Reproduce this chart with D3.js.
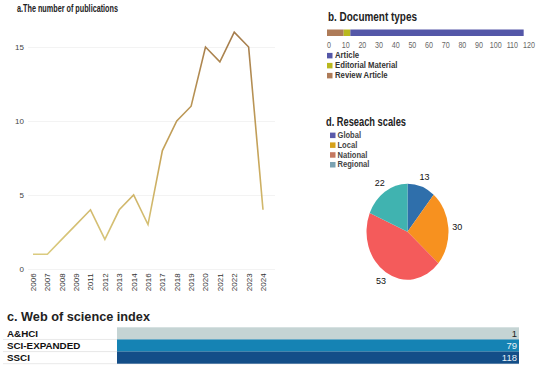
<!DOCTYPE html>
<html>
<head>
<meta charset="utf-8">
<script src="https://cdn.jsdelivr.net/npm/d3@7"></script>
<style>
  body { margin: 0; background: #fff; }
  svg { display: block; font-family: "Liberation Sans", Arial, sans-serif; }
</style>
</head>
<body>
<svg id="chart" width="550" height="369"></svg>
<script>
// a. publications per year
const years = ['2006', '2007', '2008', '2009', '2011', '2012', '2013', '2014', '2016',
  '2017', '2018', '2019', '2020', '2021', '2022', '2023', '2024'];
const pubs = [1, 1, 2, 3, 4, 2, 4, 5, 3, 8, 10, 11, 15, 14, 16, 15, 4];
const pubTicks = [0, 5, 10, 15];

// b. document types
const docTypes = ['Review Article', 'Editorial Material', 'Article'];
const docCounts = [10, 4, 104];
const docLegend = ['Article', 'Editorial Material', 'Review Article'];
const docTicks = [0, 10, 20, 30, 40, 50, 60, 70, 80, 90, 100, 110, 120];

// c. web of science index
const wosIndex = ['A&HCI', 'SCI-EXPANDED', 'SSCI'];
const wosCounts = [1, 79, 118];

// d. research scales
const scales = ['Global', 'Local', 'National', 'Regional'];
const scaleCounts = [13, 30, 53, 22];

const svg = d3.select('#chart');

// titles are squeezed sideways in the original, so fit them to its widths
function title(txt, xPos, yPos, size, len) {
  svg.append('text')
    .attr('x', xPos).attr('y', yPos)
    .attr('textLength', len).attr('lengthAdjust', 'spacingAndGlyphs')
    .style('font-size', size + 'px').style('font-weight', 'bold').attr('fill', '#222')
    .text(txt);
}
// narrow the glyphs of already drawn text by a factor k
function squeeze(sel, k) {
  sel.each(function () {
    const w = this.getComputedTextLength();
    d3.select(this).attr('textLength', w * k).attr('lengthAdjust', 'spacingAndGlyphs');
  });
}

// ---------- a. line chart ----------
const x = d3.scalePoint().domain(years).range([33, 263]);
const y = d3.scaleLinear().domain([0, 15]).range([269, 47]);

title('a.The number of publications', 17, 12, 10.5, 101);

const grad = svg.append('defs').append('linearGradient')
  .attr('id', 'lineGrad').attr('gradientUnits', 'userSpaceOnUse')
  .attr('x1', 0).attr('x2', 0).attr('y1', y(0)).attr('y2', y(16));
grad.append('stop').attr('offset', '0%').attr('stop-color', '#ddd084');
grad.append('stop').attr('offset', '45%').attr('stop-color', '#c9a85c');
grad.append('stop').attr('offset', '100%').attr('stop-color', '#a57c4c');

const yAxis = svg.append('g')
  .attr('transform', 'translate(28,0)')
  .call(d3.axisLeft(y).tickValues(pubTicks).tickSize(-247).tickPadding(4));
yAxis.select('.domain').remove();
yAxis.selectAll('.tick line').attr('stroke', '#f3f3f3');
yAxis.selectAll('text').attr('fill', '#444').style('font-size', '8px');

const xAxis = svg.append('g')
  .attr('transform', 'translate(0,271)')
  .call(d3.axisBottom(x).tickSize(0).tickPadding(2));
xAxis.select('.domain').remove();
xAxis.selectAll('text')
  .attr('fill', '#333').style('font-size', '8px')
  .attr('transform', 'rotate(-90)')
  .attr('text-anchor', 'end')
  .attr('dx', '-0.3em').attr('dy', '0.3em')
  .attr('x', 0).attr('y', 0);

svg.append('path')
  .datum(pubs)
  .attr('fill', 'none')
  .attr('stroke', 'url(#lineGrad)')
  .attr('stroke-width', 1.6)
  .attr('d', d3.line().x((d, i) => x(years[i])).y(d => y(d)));

// ---------- b. document types ----------
const docColor = d3.scaleOrdinal()
  .domain(['Article', 'Editorial Material', 'Review Article'])
  .range(['#5457a8', '#b9b81e', '#ae7b58']);
const xb = d3.scaleLinear().domain([0, 120]).range([327, 527]);

title('b. Document types', 328, 21, 12, 89);

let acc = 0;
const stacked = docCounts.map((v, i) => {
  const s = { key: docTypes[i], x0: acc, x1: acc + v };
  acc += v;
  return s;
});
svg.selectAll('.docbar')
  .data(stacked)
  .enter().append('rect')
  .attr('x', d => xb(d.x0))
  .attr('width', d => xb(d.x1) - xb(d.x0))
  .attr('y', 29.5).attr('height', 6.5)
  .attr('fill', d => docColor(d.key));

const bAxis = svg.append('g')
  .attr('transform', 'translate(1.5,38)')
  .call(d3.axisBottom(xb).tickValues(docTicks).tickSize(0).tickPadding(3));
bAxis.attr('font-family', null);
bAxis.select('.domain').remove();
bAxis.selectAll('text').attr('fill', '#666').style('font-size', '9.5px');
squeeze(bAxis.selectAll('text'), 0.75);

const bLeg = svg.selectAll('.docleg')
  .data(docLegend)
  .enter().append('g')
  .attr('transform', (d, i) => 'translate(327,' + (52.9 + i * 10) + ')');
bLeg.append('rect').attr('width', 5.5).attr('height', 5.5).attr('fill', d => docColor(d));
bLeg.append('text').attr('x', 8).attr('y', 5.4)
  .style('font-size', '9px').style('font-weight', 'bold').attr('fill', '#333')
  .text(d => d);
squeeze(bLeg.selectAll('text'), 0.86);

// ---------- d. research scales ----------
const pieColor = d3.scaleOrdinal().domain(scales)
  .range(['#2f6fab', '#f7911f', '#f45b5b', '#40b3b0']);
const legColor = d3.scaleOrdinal().domain(scales)
  .range(['#5a5aaa', '#d6a11a', '#c47860', '#7aa2b2']);

title('d. Reseach scales', 326, 126, 12, 80);

const dLeg = svg.selectAll('.scaleleg')
  .data(scales)
  .enter().append('g')
  .attr('transform', (d, i) => 'translate(330,' + (132.6 + i * 9.8) + ')');
dLeg.append('rect').attr('width', 5.5).attr('height', 5.5).attr('fill', d => legColor(d));
dLeg.append('text').attr('x', 7.5).attr('y', 5.4)
  .style('font-size', '9px').style('font-weight', 'bold').attr('fill', '#444')
  .text(d => d);
squeeze(dLeg.selectAll('text'), 0.84);

const pieData = d3.pie().sort(null)(scaleCounts);
const r = 41;
const pieG = svg.append('g')
  .attr('transform', 'translate(407.5,231.7) scale(1,1.17)');
pieG.selectAll('path')
  .data(pieData)
  .enter().append('path')
  .attr('d', d3.arc().innerRadius(0).outerRadius(r))
  .attr('fill', (d, i) => pieColor(scales[i]));

const labelArc = d3.arc().innerRadius(r + 9).outerRadius(r + 9);
svg.append('g')
  .attr('transform', 'translate(407.5,231.7)')
  .selectAll('text')
  .data(pieData)
  .enter().append('text')
  .attr('x', d => labelArc.centroid(d)[0])
  .attr('y', d => labelArc.centroid(d)[1] * 1.17)
  .attr('dy', '0.35em')
  .attr('text-anchor', 'middle')
  .style('font-size', '9px').attr('fill', '#111')
  .text(d => d.data);

// ---------- c. web of science index ----------
title('c. Web of science index', 7, 321, 13.5, 143);

const yc = d3.scaleBand().domain(wosIndex).range([327.3, 363.7]).paddingInner(0);
const wosColor = d3.scaleOrdinal().domain(wosIndex).range(['#c5d4d4', '#1583b4', '#134e88']);
const wosText = d3.scaleOrdinal().domain(wosIndex).range(['#222', '#e6f2f6', '#e6f0f6']);

const rows = svg.selectAll('.wos')
  .data(wosIndex)
  .enter().append('g');
rows.append('line')
  .attr('x1', 3).attr('x2', 519)
  .attr('y1', d => yc(d) + yc.bandwidth()).attr('y2', d => yc(d) + yc.bandwidth())
  .attr('stroke', '#e2e2e2').attr('stroke-width', 0.8);
rows.append('rect')
  .attr('x', 117).attr('width', 402)
  .attr('y', d => yc(d)).attr('height', yc.bandwidth())
  .attr('fill', d => wosColor(d));
rows.append('text')
  .attr('x', 7).attr('y', d => yc(d) + yc.bandwidth() / 2).attr('dy', '0.35em')
  .style('font-size', '9.8px').style('font-weight', 'bold').attr('fill', '#111')
  .text(d => d);
rows.append('text')
  .attr('x', 517).attr('y', d => yc(d) + yc.bandwidth() / 2).attr('dy', '0.36em')
  .attr('text-anchor', 'end')
  .style('font-size', '9.5px').attr('fill', d => wosText(d))
  .text((d, i) => wosCounts[i]);
</script>
</body>
</html>
